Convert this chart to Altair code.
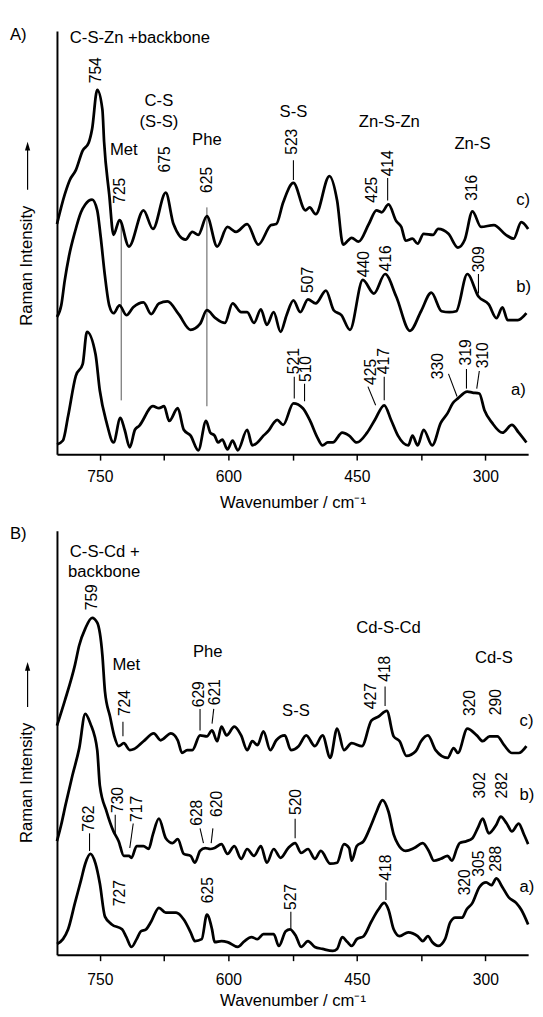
import altair as alt
import pandas as pd

FONT = "Liberation Sans"

# ---------------- Panel A (Zn) spectra: wavenumber / cm-1, stacked intensity (a.u.)
A_c_wn = [800,791,785,778,770,763,759,753,747,745,739,734,727,716,699,688,673,664,650,642,635,625,613,601,591,578,565,550,544,536,524,510,505,498,482,473,466,456,448,436,427,421,413,404,398,393,385,379,372,361,355,343,332,324,315,305,290,276,267,258,250]
A_c_int = [235,265,280,290,310,318,332,372,352,319,265,224,239,212,249,230,267,235,219,227,224,243,212,232,227,235,214,234,235,257,277,249,252,245,284,259,214,221,217,235,249,247,255,238,232,218,220,215,225,224,230,225,211,219,248,232,234,224,220,237,230]

A_b_wn = [800,795,791,786,779,772,767,759,753,749,744,739,734,727,719,711,699,690,681,671,658,644,633,625,615,604,595,585,578,570,562,555,547,539,532,524,516,507,498,486,477,468,458,443,430,417,404,388,375,363,351,342,334,321,308,296,287,280,274,262,252]
A_b_int = [140,152,177,202,227,247,255,260,249,222,182,152,144,152,142,150,155,143,154,156,143,127,133,147,139,134,154,145,145,134,148,132,145,125,142,157,145,158,154,167,147,142,127,178,164,184,161,126,146,165,146,145,146,184,161,153,139,150,137,137,144]

A_a_wn = [800,793,787,778,770,765,755,750,742,734,726,721,715,709,704,688,681,675,669,659,652,644,635,626,621,616,612,607,601,595,589,578,572,566,559,553,547,543,536,524,513,505,496,490,484,478,467,459,450,438,429,418,410,402,390,385,379,372,362,352,344,338,332,321,315,307,301,292,280,269,261,252]
A_a_int = [10,14,39,80,92,125,102,65,32,12,37,25,7,25,29,49,47,49,34,47,25,19,4,34,22,19,12,15,5,14,4,25,9,12,19,24,32,35,30,52,47,35,17,9,12,12,22,19,12,22,35,50,35,19,9,19,9,25,9,32,42,52,57,64,63,62,45,32,22,30,22,12]

# Panel A annotations
A_rot_text = ["754","725","675","625","523","425","414","316","507","440","416","309","521","510","425","417","330","319","310"]
A_rot_wn = [754,726,674,625,525,432,413,315,507,442,416,307,523,509,433,418,355,322,303]
A_rot_int = [392,269,301,280,319,270,297,272,178,194,200,199,95,87,84,95,90,104,101]

A_rule_wn1 = [725,625,524,414,308,523,511,437,418,343,322,307]
A_rule_int1 = [239,252,300,282,184,79,72,69,79,82,87,85]
A_rule_wn2 = [725,625,524,414,308,523,511,428,418,333,322,310]
A_rule_int2 = [55,49,280,259,164,57,54,50,55,59,67,67]
A_rule_kind = ["guide","guide","lead","lead","lead","lead","lead","lead","lead","lead","lead","lead"]

A_lab_text = ["C-S-Zn +backbone","C-S","(S-S)","Met","Phe","S-S","Zn-S-Zn","Zn-S","c)","b)","a)"]
A_lab_wn = [785,681,681,722,625,524,412,315,264,264,270]
A_lab_int = [425,360,339,310,321,349,339,317,259,171,65]
A_lab_align = ["left","center","center","center","center","center","center","center","left","left","left"]

# ---------------- Panel B (Cd) spectra
B_c_wn = [800,791,779,774,767,759,753,747,744,738,733,728,722,715,710,699,687,679,667,659,654,648,642,633,625,619,613,608,602,593,585,578,572,566,559,551,544,534,527,518,509,499,490,481,473,465,456,444,433,425,415,407,400,392,381,375,367,358,344,337,332,321,310,303,295,286,278,269,261,252]
B_c_int = [234,259,296,316,333,344,339,306,269,243,223,213,216,209,210,218,226,219,226,219,206,209,209,224,223,229,218,233,224,233,224,209,218,214,228,209,219,224,209,213,224,213,224,201,231,209,216,213,239,243,249,223,218,203,208,218,224,209,201,211,206,231,224,218,223,223,214,206,206,213]

B_b_wn = [800,795,790,782,774,767,761,753,750,742,734,728,722,716,713,707,699,693,688,681,673,665,659,652,644,639,633,627,621,616,608,601,593,585,578,570,562,555,547,539,530,522,515,507,499,492,481,473,465,459,456,450,442,433,427,420,413,407,402,393,383,373,366,360,352,344,339,333,330,322,315,309,303,296,287,282,275,269,261,255,250]
B_b_int = [116,133,153,183,211,246,236,209,173,146,126,116,101,101,99,111,111,108,123,139,119,114,118,103,101,94,106,109,108,109,113,103,111,98,108,101,111,94,108,99,109,114,104,108,98,106,93,94,113,109,96,111,116,133,146,158,146,123,113,106,109,114,106,96,98,101,96,109,114,116,119,129,139,124,133,141,134,126,134,123,113]

B_a_wn = [800,793,787,779,772,767,761,755,750,744,736,724,719,713,707,702,696,690,681,673,661,652,644,639,631,625,619,616,608,601,589,581,573,566,559,547,541,533,528,521,515,507,499,490,478,473,467,461,456,450,442,433,425,418,413,407,400,390,379,373,367,362,355,347,341,335,327,322,315,307,299,293,287,280,273,264,258,250]
B_a_int = [11,16,26,53,76,93,103,93,73,39,31,26,18,8,16,24,26,34,48,43,43,36,23,14,16,41,26,13,14,13,8,14,18,16,21,21,9,24,26,19,8,14,8,6,4,6,18,13,9,16,19,34,46,53,46,26,19,23,19,14,19,13,9,16,33,38,38,46,53,69,74,71,78,69,59,53,46,31]

B_rot_text = ["759","724","629","621","427","418","320","290","762","730","717","628","620","520","302","282","727","625","527","418","320","305","288"]
B_rot_wn = [759,721,634,616,433,417,318,287,763,729,707,636,613,521,306,280,726,624,527,416,324,307,287]
B_rot_int = [365,257,266,268,264,292,257,258,139,158,149,145,154,156,173,173,63,66,59,89,74,93,98]

B_rule_wn1 = [723,633,617,417,762,732,711,633,618,522,527,416]
B_rule_int1 = [238,251,251,274,124,143,134,129,129,139,44,74]
B_rule_wn2 = [723,633,619,417,762,732,715,629,620,522,527,416]
B_rule_int2 = [223,229,236,254,106,124,109,114,114,119,26,56]
B_rule_kind = ["lead"] * 12

B_lab_text = ["C-S-Cd +","backbone","Met","Phe","S-S","Cd-S-Cd","Cd-S","c)","b)","a)"]
B_lab_wn = [785,787,719,624,521,413,290,260,260,260]
B_lab_int = [411,391,296,309,249,333,303,239,163,69]
B_lab_align = ["left","left","center","center","center","center","center","left","left","left"]

X_TICKS = [750, 675, 600, 525, 450, 375, 300]


def panel(spectra, rot, rules, labs, height, letter, title_y, arrow_tip,
          arrow_end, label_pad, title_pad):
    xs = alt.Scale(domain=[250, 800], reverse=True, nice=False, zero=False)
    ys = alt.Scale(domain=[0, height], nice=False, zero=False)
    xaxis = alt.Axis(values=X_TICKS,
                     labelExpr="datum.value % 150 == 0 ? datum.label : ''",
                     title="Wavenumber / cm\u207b\u00b9", grid=False,
                     tickSize=6, tickWidth=1.5, tickColor="black",
                     domainColor="black", domainWidth=2,
                     labelFontSize=16, labelColor="black", labelPadding=label_pad,
                     labelFlush=False, titleFontSize=17, titleFontWeight="normal",
                     titleColor="black", titlePadding=title_pad)
    yaxis = alt.Axis(title="Raman Intensity", ticks=False,
                     labels=False, grid=False, domainColor="black", domainWidth=2,
                     titleFontSize=17, titleFontWeight="normal", titleColor="black",
                     titleX=-31, titleY=title_y, titleAngle=270,
                     titleAlign="center", titleBaseline="middle")

    def X(f):
        return alt.X(f, type="quantitative", scale=xs, axis=xaxis)

    def Y(f):
        return alt.Y(f, type="quantitative", scale=ys, axis=yaxis)

    rows = []
    for name, (wn, inten) in spectra.items():
        for w, v in zip(wn, inten):
            rows.append({"series": name, "wn": w, "int": v})
    spec_df = pd.DataFrame(rows)

    lines = alt.Chart(spec_df).mark_line(
        color="black", strokeWidth=2.8, interpolate="monotone"
    ).encode(x=X("wn"), y=Y("int"), detail="series:N")

    rule_df = pd.DataFrame({"wn": rules[0], "int": rules[1], "wn2": rules[2],
                            "int2": rules[3], "kind": rules[4]})
    guide = alt.Chart(rule_df[rule_df["kind"] == "guide"]).mark_rule(
        color="#555555", strokeWidth=1
    ).encode(x=X("wn"), y=Y("int"), x2="wn2", y2="int2")
    lead = alt.Chart(rule_df[rule_df["kind"] == "lead"]).mark_rule(
        color="black", strokeWidth=1.1
    ).encode(x=X("wn"), y=Y("int"), x2="wn2", y2="int2")

    rot_df = pd.DataFrame({"t": rot[0], "wn": rot[1], "int": rot[2]})
    rot_txt = alt.Chart(rot_df).mark_text(
        angle=270, fontSize=16, font=FONT, color="black",
        align="center", baseline="middle"
    ).encode(x=X("wn"), y=Y("int"), text="t:N")

    lab_df = pd.DataFrame({"t": labs[0], "wn": labs[1], "int": labs[2], "al": labs[3]})
    lab_c = alt.Chart(lab_df[lab_df["al"] == "center"]).mark_text(
        fontSize=17, font=FONT, color="black", align="center", baseline="middle"
    ).encode(x=X("wn"), y=Y("int"), text="t:N")
    lab_l = alt.Chart(lab_df[lab_df["al"] == "left"]).mark_text(
        fontSize=17, font=FONT, color="black", align="left", baseline="middle"
    ).encode(x=X("wn"), y=Y("int"), text="t:N")

    letter_df = pd.DataFrame({"t": [letter]})
    let = alt.Chart(letter_df).mark_text(
        fontSize=17, font=FONT, color="black", align="left", baseline="middle"
    ).encode(text="t:N", x=alt.value(-48), y=alt.value(4))

    # upward arrow next to the y-axis title
    one = pd.DataFrame({"k": [0]})
    shaft = alt.Chart(one).mark_rule(color="black", strokeWidth=1.2).encode(
        x=alt.value(-30), y=alt.value(arrow_tip + 6), y2=alt.value(arrow_end)
    )
    head = alt.Chart(one).mark_point(
        shape="M0,-1L0.6,1L-0.6,1Z", filled=True, color="black", opacity=1,
        size=80, strokeWidth=0
    ).encode(x=alt.value(-30), y=alt.value(arrow_tip + 4.5))

    return alt.layer(guide, lead, lines, rot_txt, lab_c, lab_l, let, shaft, head).properties(
        width=481, height=height
    )


panelA = panel(
    {"a": (A_a_wn, A_a_int), "b": (A_b_wn, A_b_int), "c": (A_c_wn, A_c_int)},
    (A_rot_text, A_rot_wn, A_rot_int),
    (A_rule_wn1, A_rule_int1, A_rule_wn2, A_rule_int2, A_rule_kind),
    (A_lab_text, A_lab_wn, A_lab_int, A_lab_align),
    432, "A)", 239, 113, 162, 9, 10,
)
panelB = panel(
    {"a": (B_a_wn, B_a_int), "b": (B_b_wn, B_b_int), "c": (B_c_wn, B_c_int)},
    (B_rot_text, B_rot_wn, B_rot_int),
    (B_rule_wn1, B_rule_int1, B_rule_wn2, B_rule_int2, B_rule_kind),
    (B_lab_text, B_lab_wn, B_lab_int, B_lab_align),
    433, "B)", 257, 134, 180, 11, 6,
)

chart = alt.vconcat(panelA, panelB, spacing=16).properties(
    padding={"left": 2, "top": 8, "right": 0, "bottom": 0},
    background="white",
).configure(font=FONT).configure_view(stroke=None).configure_axis(
    labelFont=FONT, titleFont=FONT
)

chart.save("out.html", embed_options={"renderer": "svg", "actions": False})
